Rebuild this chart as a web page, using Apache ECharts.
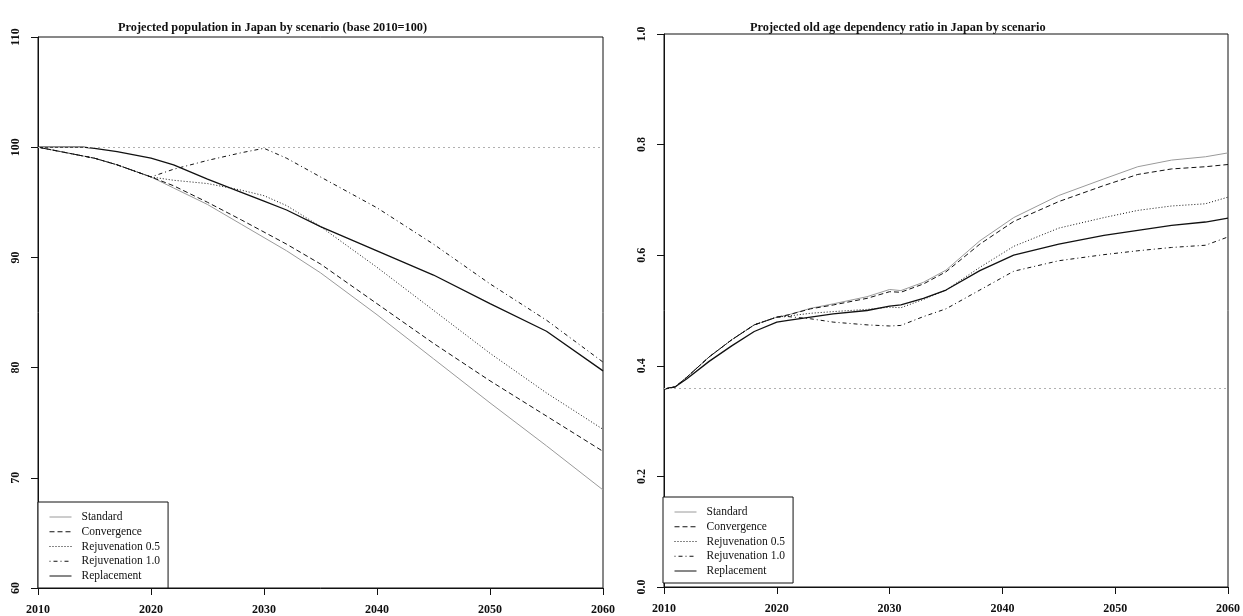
<!DOCTYPE html>
<html>
<head>
<meta charset="utf-8">
<script src="https://cdn.jsdelivr.net/npm/echarts@6/dist/echarts.min.js"></script>
<style>
  html, body { margin: 0; padding: 0; background: #fff; }
  #chart { width: 1243px; height: 616px; }
</style>
</head>
<body>
<div id="chart"></div>
<script>
// population, base 2010 = 100
const popYears = [2010, 2012, 2014, 2015, 2017, 2020, 2022, 2025, 2028, 2030, 2032, 2035, 2040, 2045, 2050, 2055, 2060]
const popStandard = [100, 99.6, 99.2, 99.0, 98.4, 97.3, 96.3, 94.8, 93.0, 91.8, 90.6, 88.6, 84.8, 80.8, 76.8, 72.9, 68.9]
const popConvergence = [100, 99.6, 99.2, 99.0, 98.4, 97.3, 96.5, 95.0, 93.4, 92.3, 91.2, 89.4, 85.8, 82.2, 78.8, 75.6, 72.4]
const popRejuv05 = [100, 99.6, 99.2, 99.0, 98.4, 97.3, 97.0, 96.7, 96.1, 95.6, 94.7, 92.8, 89.1, 85.2, 81.3, 77.7, 74.4]
const popRejuv10 = [100, 99.6, 99.2, 99.0, 98.4, 97.3, 98.0, 98.8, 99.5, 99.9, 99.0, 97.3, 94.5, 91.2, 87.6, 84.3, 80.5]
const popReplacement = [100, 100, 100, 99.9, 99.6, 99.0, 98.4, 97.1, 95.9, 95.1, 94.3, 92.8, 90.6, 88.4, 85.8, 83.3, 79.7]
const popRef = 100

// old age dependency ratio
const ratioYears = [2010, 2011, 2012, 2014, 2016, 2018, 2020, 2021, 2023, 2025, 2028, 2030, 2031, 2033, 2035, 2038, 2041, 2045, 2049, 2052, 2055, 2058, 2060]
const ratioStandard = [0.358, 0.362, 0.379, 0.416, 0.447, 0.474, 0.488, 0.492, 0.504, 0.512, 0.525, 0.538, 0.536, 0.551, 0.573, 0.626, 0.668, 0.708, 0.738, 0.760, 0.772, 0.778, 0.785]
const ratioConvergence = [0.358, 0.362, 0.379, 0.416, 0.447, 0.474, 0.488, 0.492, 0.503, 0.510, 0.522, 0.534, 0.533, 0.548, 0.570, 0.620, 0.661, 0.697, 0.726, 0.746, 0.756, 0.760, 0.764]
const ratioRejuv05 = [0.358, 0.362, 0.379, 0.416, 0.447, 0.474, 0.488, 0.490, 0.495, 0.498, 0.502, 0.506, 0.505, 0.520, 0.537, 0.578, 0.616, 0.649, 0.668, 0.681, 0.689, 0.693, 0.705]
const ratioRejuv10 = [0.358, 0.362, 0.379, 0.416, 0.447, 0.474, 0.488, 0.489, 0.485, 0.479, 0.474, 0.472, 0.473, 0.489, 0.503, 0.537, 0.571, 0.590, 0.601, 0.608, 0.614, 0.618, 0.633]
const ratioReplacement = [0.358, 0.362, 0.376, 0.408, 0.436, 0.462, 0.479, 0.482, 0.488, 0.494, 0.500, 0.508, 0.510, 0.522, 0.537, 0.572, 0.600, 0.620, 0.636, 0.645, 0.654, 0.660, 0.667]
const ratioRef = 0.36

const names = ['Standard', 'Convergence', 'Rejuvenation 0.5', 'Rejuvenation 1.0', 'Replacement']

const font = 'Liberation Serif'
const ink = '#111'

// R style line types
const styles = [
  {color: '#9a9a9a', type: 'solid', width: 1},
  {color: ink, type: [5, 3], width: 1},
  {color: ink, type: [1, 2], width: 1},
  {color: ink, type: [1, 3, 4, 3], width: 1},
  {color: ink, type: 'solid', width: 1.3}
]

function pairs (xs, ys) {
  return xs.map((x, i) => [x, ys[i]])
}

function makeSeries (idx, xs, list, ref) {
  return list.map((ys, i) => {
    let s = {
      name: names[i],
      type: 'line',
      xAxisIndex: idx,
      yAxisIndex: idx,
      symbol: 'none',
      color: styles[i].color,
      lineStyle: styles[i],
      data: pairs(xs, ys)
    }
    if (i === 0) {
      s.markLine = {
        silent: true,
        symbol: 'none',
        label: {show: false},
        lineStyle: {color: '#b0b0b0', type: [2, 3], width: 1},
        data: [{yAxis: ref}]
      }
    }
    return s
  })
}

function xAxis (idx) {
  return {
    type: 'value',
    gridIndex: idx,
    min: 2010,
    max: 2060,
    interval: 10,
    splitLine: {show: false},
    axisLine: {lineStyle: {color: ink}},
    axisTick: {length: 7, lineStyle: {color: ink}},
    axisLabel: {
      margin: 16,
      color: ink,
      fontFamily: font,
      fontWeight: 'bold',
      fontSize: 12,
      showMinLabel: true,
      showMaxLabel: true,
      formatter: v => String(v)
    }
  }
}

function yAxis (idx, min, max, interval, fmt) {
  return {
    type: 'value',
    gridIndex: idx,
    min: min,
    max: max,
    interval: interval,
    splitLine: {show: false},
    axisLine: {show: true, lineStyle: {color: ink}},
    axisTick: {show: true, length: 7, lineStyle: {color: ink}},
    axisLabel: {
      rotate: 90,
      margin: 16,
      color: ink,
      fontFamily: font,
      fontWeight: 'bold',
      fontSize: 12,
      formatter: fmt
    }
  }
}

function legend (left, top) {
  return {
    data: names,
    orient: 'vertical',
    left: left,
    top: top,
    itemWidth: 22,
    itemHeight: 12,
    itemGap: 2.75,
    padding: [9, 8, 6, 11],
    borderColor: ink,
    borderWidth: 1,
    borderRadius: 0,
    backgroundColor: '#fff',
    selectedMode: false,
    itemStyle: {opacity: 0},
    lineStyle: {width: 1},
    textStyle: {
      fontFamily: font,
      fontSize: 11.5,
      color: ink,
      padding: [0, 0, 0, 5]
    }
  }
}

const chart = echarts.init(document.getElementById('chart'))
chart.setOption({
  animation: false,
  title: [
    {
      text: 'Projected population in Japan by scenario (base 2010=100)',
      left: 113,
      top: 17,
      textStyle: {fontFamily: font, fontWeight: 'bold', fontSize: 12.3, color: ink}
    },
    {
      text: 'Projected old age dependency ratio in Japan by scenario',
      left: 745,
      top: 17,
      textStyle: {fontFamily: font, fontWeight: 'bold', fontSize: 12.3, color: ink}
    }
  ],
  legend: [legend(38, 502), legend(663, 497)],
  grid: [
    {left: 38, top: 37, width: 565, height: 553, show: true, borderColor: ink, borderWidth: 1},
    {left: 664, top: 34, width: 565, height: 553, show: true, borderColor: ink, borderWidth: 1}
  ],
  xAxis: [xAxis(0), xAxis(1)],
  yAxis: [
    yAxis(0, 60, 110, 10, v => String(v)),
    yAxis(1, 0, 1, 0.2, v => v.toFixed(1))
  ],
  series: [].concat(
    makeSeries(0, popYears, [popStandard, popConvergence, popRejuv05, popRejuv10, popReplacement], popRef),
    makeSeries(1, ratioYears, [ratioStandard, ratioConvergence, ratioRejuv05, ratioRejuv10, ratioReplacement], ratioRef)
  )
})
</script>
</body>
</html>
